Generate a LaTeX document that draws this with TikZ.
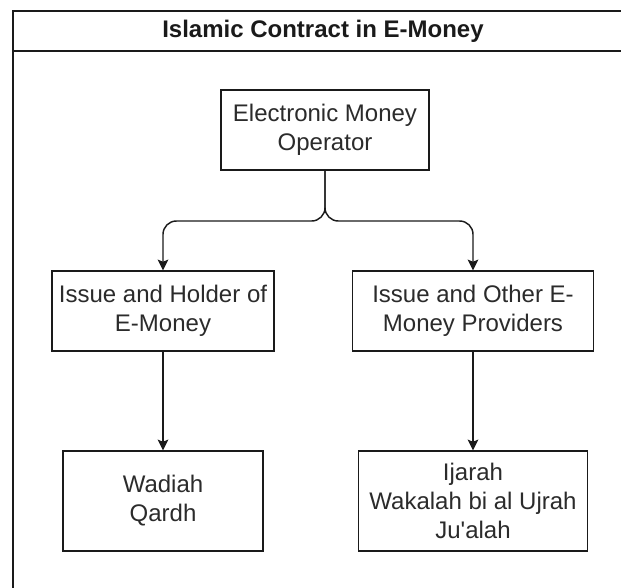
\documentclass[tikz,border=0pt]{standalone}
\usepackage{fontspec}
\setmainfont{Liberation Sans}
\usepackage{tikz}
\usetikzlibrary{positioning,arrows.meta}
\definecolor{ink}{HTML}{1A1A1A}
\definecolor{txt}{HTML}{2B2B2B}
\newcommand{\labelfont}{\fontsize{18}{21.8}\selectfont}
\tikzset{
  box/.style   = {draw=ink, fill=white, line width=1.1pt, align=center,
                  text=txt, inner sep=2pt, font=\labelfont},
  head/.style  = {font=\labelfont\bfseries, text=ink, inner sep=0pt},
  flow/.style  = {-{Stealth[length=8pt,width=8pt,inset=1.6pt]}, draw=ink,
                  line width=1.1pt, rounded corners=10pt},
}

\begin{document}
\begin{tikzpicture}[x=0.75pt,y=-0.75pt]
  \clip (0,0) rectangle (621,587);
  % container
  \draw[draw=ink,line width=1.1pt] (13,11) rectangle (633,600);
  \draw[draw=ink,line width=1.1pt] (13,51) -- (633,51);
  \node[head] (title) at (323,31) {Islamic Contract in E-Money};
  % operator
  \node[box,minimum width=208*0.75pt,minimum height=80*0.75pt]
    (emo) at (325,130) {Electronic Money\\Operator};
  % second row
  \node[box,minimum width=222*0.75pt,minimum height=80*0.75pt]
    (issuer) at (163,311) {Issue and Holder of\\E-Money};
  \node[box,minimum width=241*0.75pt,minimum height=80*0.75pt]
    (provider) at (473,311) {Issue and Other E-\\Money Providers};
  % contracts
  \node[box,minimum width=200*0.75pt,minimum height=100*0.75pt]
    (wadiah) at (163,501) {Wadiah\\Qardh};
  \node[box,minimum width=229*0.75pt,minimum height=100*0.75pt]
    (ijarah) at (473,501) {Ijarah\\Wakalah bi al Ujrah\\Ju\textquotesingle alah};
  % arrows
  \coordinate (fork) at (325,221);
  \draw[flow] (emo.south) -- (fork) -| (issuer.north);
  \draw[flow] (emo.south) -- (fork) -| (provider.north);
  \draw[flow] (issuer) -- (wadiah);
  \draw[flow] (provider) -- (ijarah);
\end{tikzpicture}
\end{document}
